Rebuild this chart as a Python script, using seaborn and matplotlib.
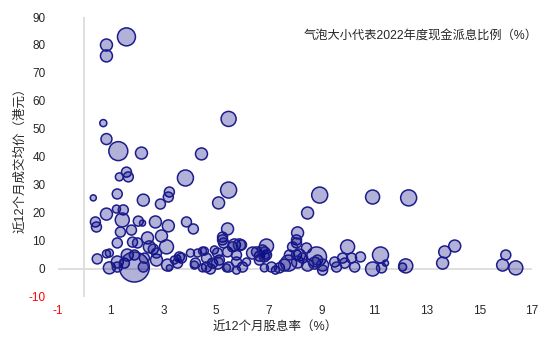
import matplotlib
matplotlib.use("Agg")
import matplotlib.pyplot as plt
import seaborn as sns
import pandas as pd

# 近12个月股息率（%）
dividend_yield = [
    0.84, 0.84, 1.60, 0.72, 0.84, 1.29, 2.17, 4.45, 5.48, 1.60,
    1.33, 1.67, 3.84, 3.23, 3.19, 2.89, 0.34, 1.25, 2.24, 0.84,
    1.22, 1.48, 1.44, 0.42, 0.46, 2.05, 2.21, 2.70, 3.19, 3.88,
    4.14, 1.37, 1.79, 2.40, 2.93, 1.25, 1.83, 2.02, 2.47, 2.62,
    3.12, 0.49, 0.84, 0.95, 1.25, 0.95, 1.25, 1.52, 1.63, 1.90,
    1.90, 2.28, 2.74, 2.24, 2.74, 3.16, 3.23, 3.42, 3.54, 5.10,
    5.48, 5.44, 5.25, 5.25, 5.29, 5.70, 5.97, 6.92, 4.03, 4.56,
    3.61, 4.22, 4.64, 4.87, 5.13, 5.48, 5.78, 6.01, 6.39, 6.65,
    6.92, 6.65, 7.26, 3.69, 3.54, 4.30, 4.49, 4.64, 4.94, 5.06,
    4.18, 4.49, 4.79, 5.06, 5.44, 5.63, 5.89, 5.78, 5.78, 6.16,
    6.54, 6.77, 6.84, 6.84, 5.40, 8.94, 8.48, 8.10, 8.06, 8.06,
    7.91, 8.44, 6.84, 7.11, 7.41, 7.60, 7.76, 7.79, 8.06, 8.17,
    8.10, 8.29, 8.48, 8.82, 8.75, 8.86, 9.05, 9.05, 9.51, 9.58,
    9.81, 9.89, 10.00, 10.15, 10.27, 10.49, 10.95, 12.32, 11.25, 11.44,
    10.95, 11.29, 12.09, 12.21, 14.07, 13.69, 13.61, 16.01, 15.89, 16.39,
]

# 近12个月成交均价（港元）
avg_price = [
    80.0, 76.1, 82.9, 52.1, 46.4, 42.1, 41.4, 41.1, 53.6, 34.6,
    32.9, 32.9, 32.5, 27.5, 25.7, 23.2, 25.4, 26.8, 24.6, 19.6,
    21.4, 21.1, 17.5, 16.8, 15.0, 17.1, 16.4, 16.8, 15.4, 16.8,
    14.3, 13.2, 13.9, 11.1, 11.8, 9.3, 9.6, 9.3, 7.9, 7.1,
    7.9, 3.6, 5.4, 5.7, 2.5, 0.4, 0.7, 2.1, 5.0, 5.0,
    0.7, 3.9, 3.2, 0.7, 5.7, 1.4, 0.4, 3.2, 3.9, 23.6,
    28.2, 14.3, 11.4, 10.4, 9.3, 8.6, 8.6, 8.2, 5.7, 6.4,
    4.3, 2.1, 0.7, 2.1, 3.2, 0.7, -0.4, 0.7, 5.7, 4.6,
    5.0, 3.2, -0.4, 3.9, 2.1, 5.7, 6.4, 3.9, 6.8, 5.7,
    1.4, 0.4, 0.0, 2.1, 6.1, 7.9, 8.6, 5.0, 2.5, 2.5,
    6.1, 6.8, 4.3, 0.4, 0.4, 26.4, 20.0, 12.9, 10.4, 9.3,
    7.9, 7.5, 5.7, 0.7, 0.4, 1.4, 2.1, 5.0, 5.0, 5.0,
    2.5, 3.9, 1.4, 4.3, 2.1, 3.2, 1.4, -0.4, 2.5, 0.7,
    3.9, 2.1, 7.9, 3.9, 0.7, 4.3, 25.7, 25.4, 5.0, 2.1,
    0.0, 0.4, 0.7, 1.1, 8.2, 6.1, 2.1, 5.0, 1.4, 0.4,
]

# 2022年度现金派息比例（%）
payout_ratio = [
    43, 43, 97, 15, 36, 108, 43, 43, 68, 30,
    19, 30, 77, 30, 30, 30, 11, 30, 43, 43,
    19, 30, 59, 30, 30, 30, 11, 43, 43, 30,
    30, 30, 30, 43, 43, 30, 30, 30, 43, 30,
    59, 30, 19, 19, 43, 43, 30, 30, 43, 30,
    270, 30, 43, 30, 30, 43, 11, 19, 11, 43,
    77, 43, 30, 30, 30, 43, 30, 59, 19, 19,
    30, 30, 30, 30, 30, 30, 19, 30, 43, 30,
    30, 30, 19, 30, 30, 19, 19, 30, 19, 30,
    19, 19, 30, 43, 30, 30, 43, 30, 30, 19,
    30, 30, 30, 19, 19, 77, 43, 43, 30, 30,
    30, 30, 43, 30, 30, 43, 77, 30, 30, 43,
    43, 30, 43, 120, 43, 30, 43, 30, 30, 30,
    30, 30, 59, 30, 30, 30, 59, 77, 77, 11,
    59, 30, 19, 59, 43, 43, 43, 30, 43, 59,
]

x_ticks = [-1, 1, 3, 5, 7, 9, 11, 13, 15, 17]
y_ticks = [-10, 0, 10, 20, 30, 40, 50, 60, 70, 80, 90]

df = pd.DataFrame({
    "yield": dividend_yield,
    "price": avg_price,
    "payout": payout_ratio,
})

sns.set_theme(style="white")
plt.rcParams["font.family"] = ["Liberation Sans", "Noto Sans CJK SC", "DejaVu Sans"]

fig = plt.figure(figsize=(5.5, 3.4), dpi=100)
ax = fig.add_axes([0.1055, 0.1265, 0.8615, 0.8235])

# zero reference lines
ax.axhline(0, color="#d9d9d9", linewidth=1.2, zorder=1)
ax.axvline(0, color="#d9d9d9", linewidth=1.2, zorder=1)

sns.scatterplot(
    data=df, x="yield", y="price", size="payout",
    sizes=(0, 517.5), size_norm=(0, 300), legend=False,
    color=(0.0, 0.0, 0.5, 0.3), edgecolor="#1c1c8c", linewidth=1.1,
    ax=ax, zorder=3,
)

ax.set_xlim(-1, 17)
ax.set_ylim(-10, 90)
ax.set_xticks(x_ticks)
ax.set_yticks(y_ticks)
ax.set_xticklabels([str(v) for v in x_ticks], fontsize=8.5)
ax.set_yticklabels([str(v) for v in y_ticks], fontsize=8.5)
for lbl, v in zip(ax.get_xticklabels(), x_ticks):
    lbl.set_color("#ff0000" if v < 0 else "#262626")
for lbl, v in zip(ax.get_yticklabels(), y_ticks):
    lbl.set_color("#ff0000" if v < 0 else "#262626")
ax.tick_params(axis="both", length=0)
ax.tick_params(axis="y", pad=9)
ax.tick_params(axis="x", pad=6)

for sp in ax.spines.values():
    sp.set_visible(False)
ax.grid(False)

ax.set_xlabel("近12个月股息率（%）", fontsize=9, color="#262626")
ax.set_ylabel("近12个月成交均价（港元）", fontsize=9, color="#262626")
ax.xaxis.set_label_coords(0.458, -0.085)
ax.yaxis.set_label_coords(-0.066, 0.5)

ax.text(1.012, 0.935, "气泡大小代表2022年度现金派息比例（%）",
        transform=ax.transAxes, ha="right", va="center",
        fontsize=8.8, color="#262626")

fig.savefig("out.png", dpi=100)
